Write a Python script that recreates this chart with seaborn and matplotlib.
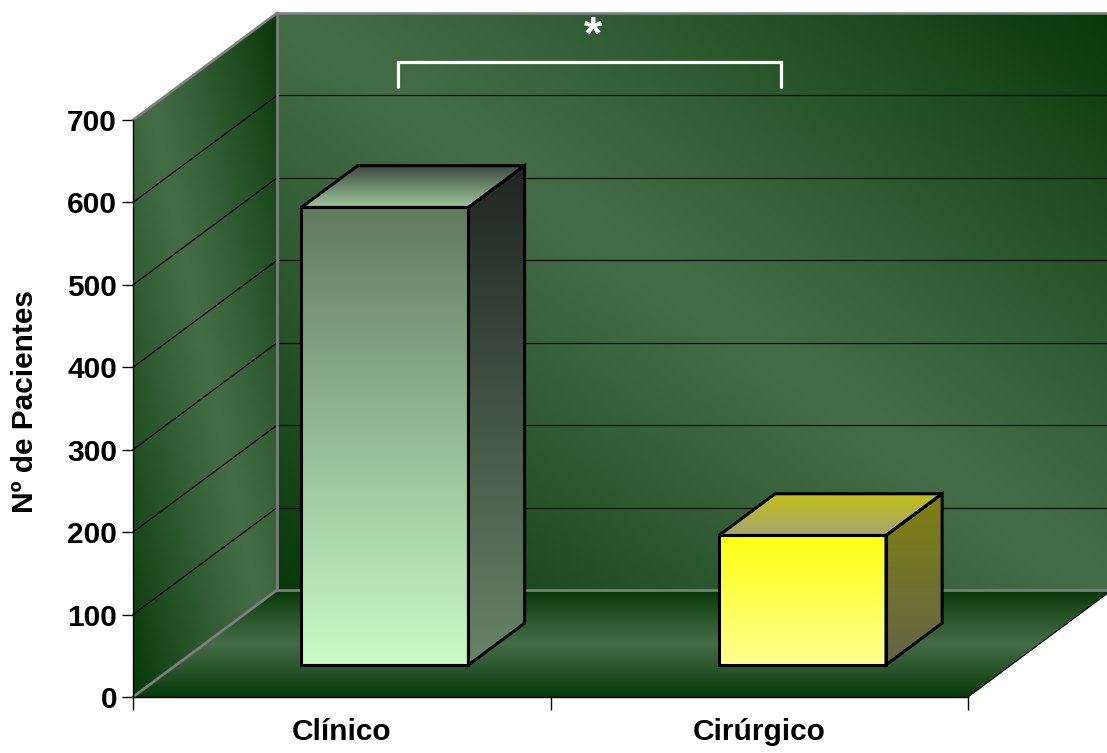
import numpy as np
import pandas as pd
import matplotlib
matplotlib.use("Agg")
import matplotlib.pyplot as plt
from matplotlib.patches import Polygon
from matplotlib.transforms import Affine2D
import seaborn as sns

# ---- data -------------------------------------------------------------
categories = ["Clínico", "Cirúrgico"]
patients = [555, 157]
y_ticks = [0, 100, 200, 300, 400, 500, 600, 700]
y_label = "Nº de Pacientes"
significance = "*"

# ---- style ------------------------------------------------------------
sns.set_style("white")
plt.rcParams["font.family"] = ["Liberation Sans", "DejaVu Sans"]
plt.rcParams["font.weight"] = "bold"
for key in ["text.color", "axes.labelcolor", "xtick.color", "ytick.color"]:
    plt.rcParams[key] = "black"

W, H = 1107, 753
fig = plt.figure(figsize=(W / 100, H / 100), dpi=100)
fig.patch.set_facecolor("white")
ax = fig.add_axes([133 / W, 56 / H, 835 / W, 577 / H])
ax.set_facecolor("none")

YMAX = 700
DX, DY = 0.345, 129.8      # depth of the 3-D box, in data units
F0, F1 = 0.30, 0.69        # depth slice occupied by the bars

LIGHT = np.array([68, 108, 70]) / 255
DARK = np.array([6, 56, 8]) / 255
GRAY = "#808080"
EDGE_LW = 2.2

bar_shades = {
    "Clínico": dict(front=((96, 122, 96), (200, 252, 200)),
                    side=((30, 38, 32), (104, 132, 104)),
                    top=((60, 72, 60), (156, 198, 156))),
    "Cirúrgico": dict(front=((255, 255, 16), (255, 255, 146)),
                      side=((128, 128, 16), (100, 100, 72)),
                      top=((194, 190, 22), (166, 166, 112))),
}


def vgrad(c_top, c_bottom, n=256):
    t = np.linspace(0, 1, n)[:, None, None]
    a = np.array(c_top)[None, None, :] / 255
    b = np.array(c_bottom)[None, None, :] / 255
    return a * (1 - t) + b * t


def diag_grad(n=300, power=1.2):
    u = np.linspace(0, 1, n)[None, :]
    v = np.linspace(0, 1, n)[:, None]
    s = np.clip(np.abs(u - v), 0, 1) ** power
    return LIGHT * (1 - s[..., None]) + DARK * s[..., None]


def floor_grad(n=256):
    v = np.linspace(0, 1, n)[:, None]
    s = np.abs(2 * v - 1) ** 1.1
    return LIGHT * (1 - s[..., None]) + DARK * s[..., None]


def put_image(arr, extent, z, clip=None, transform=None):
    im = ax.imshow(arr, extent=extent, origin="upper", aspect="auto",
                   interpolation="bilinear", zorder=z,
                   transform=transform if transform is not None else ax.transData)
    im.set_clip_box(fig.bbox)
    if clip is not None:
        im.set_clip_path(clip)
    return im


# ---- walls and floor ---------------------------------------------------
xl, xr = -0.5, 1.5
put_image(diag_grad(), (xl + DX, xr + DX, DY, YMAX + DY), z=0.2)

side_wall = Polygon([(xl, 0), (xl + DX, DY), (xl + DX, YMAX + DY), (xl, YMAX)],
                    closed=True, fc="none", ec="none", zorder=0.3, clip_on=False)
ax.add_patch(side_wall)
put_image(diag_grad(), (xl, xl + DX, 0, YMAX + DY), z=0.3, clip=side_wall)

floor = Polygon([(xl, 0), (xr, 0), (xr + DX, DY), (xl + DX, DY)],
                closed=True, fc="none", ec="none", zorder=0.3, clip_on=False)
ax.add_patch(floor)
put_image(floor_grad(), (xl, xr + DX, 0, DY), z=0.3, clip=floor)

# gridlines on the back and side walls
for v in y_ticks[1:-1]:
    ax.plot([xl + DX, xr + DX], [v + DY, v + DY], color="black", lw=0.9,
            alpha=0.85, zorder=0.6, clip_on=False)
    ax.plot([xl, xl + DX], [v, v + DY], color="black", lw=0.9,
            zorder=0.6, clip_on=False)

# box edges
edge_kw = dict(color=GRAY, lw=1.9, zorder=0.8, clip_on=False,
               solid_capstyle="projecting")
ax.plot([xl, xl + DX], [YMAX, YMAX + DY], **edge_kw)
ax.plot([xl + DX, xr + DX], [YMAX + DY, YMAX + DY], **edge_kw)
ax.plot([xl + DX, xl + DX], [DY, YMAX + DY], **edge_kw)
ax.plot([xl + DX, xr + DX], [DY, DY], **edge_kw)
ax.plot([xl, xl + DX], [0, DY], **edge_kw)
ax.plot([xr, xr + DX], [0, DY], color="black", lw=0.8, zorder=0.8, clip_on=False)

# ---- bars -------------------------------------------------------------
df = pd.DataFrame({"grupo": categories, "pacientes": patients})
sns.barplot(data=df, x="grupo", y="pacientes", order=categories, width=0.4,
            color="white", errorbar=None, ax=ax)

ox0, oy0 = F0 * DX, F0 * DY
ox1, oy1 = F1 * DX, F1 * DY
shift = Affine2D().translate(ox0, oy0) + ax.transData
face_kw = dict(closed=True, fc="none", ec="black", lw=EDGE_LW, zorder=4,
               clip_on=False, joinstyle="miter")

for bar, cat in zip(list(ax.patches)[-len(categories):], categories):
    shade = bar_shades[cat]
    x0, w, v = bar.get_x(), bar.get_width(), bar.get_height()
    x1 = x0 + w

    bar.set_transform(shift)
    bar.set_facecolor("none")
    bar.set_edgecolor("black")
    bar.set_linewidth(EDGE_LW)
    bar.set_joinstyle("miter")
    bar.set_zorder(4)
    bar.set_clip_on(False)
    put_image(vgrad(*shade["front"]), (x0, x1, 0, v), z=3.5, transform=shift)

    side = Polygon([(x1 + ox0, oy0), (x1 + ox1, oy1), (x1 + ox1, v + oy1),
                    (x1 + ox0, v + oy0)], **face_kw)
    ax.add_patch(side)
    put_image(vgrad(*shade["side"]), (x1 + ox0, x1 + ox1, oy0, v + oy1),
              z=3.5, clip=side)

    top = Polygon([(x0 + ox0, v + oy0), (x1 + ox0, v + oy0), (x1 + ox1, v + oy1),
                   (x0 + ox1, v + oy1)], **face_kw)
    ax.add_patch(top)
    put_image(vgrad(*shade["top"]), (x0 + ox0, x1 + ox1, v + oy0, v + oy1),
              z=3.5, clip=top)

# ---- significance bracket ---------------------------------------------
ax.plot([0.135, 0.135, 1.052, 1.052], [740, 770.4, 770.4, 740], color="white",
        lw=2.3, zorder=5, clip_on=False, solid_joinstyle="miter")
ax.text(0.602, 786, significance, ha="center", va="baseline", fontsize=34,
        fontweight="bold", color="white", zorder=5, clip_on=False)

# ---- axes -------------------------------------------------------------
ax.set_xlim(xl, xr)
ax.set_ylim(0, YMAX)
ax.set_yticks(y_ticks)
ax.set_xticks([0, 1])
ax.set_xticklabels(categories)
ax.set_xticks([xl, 0.5, xr], minor=True)
ax.tick_params(axis="y", which="major", left=True, direction="out", length=8,
               width=1, color="black", pad=3.5, labelsize=21.5)
ax.tick_params(axis="x", which="major", bottom=True, length=0, pad=15,
               labelsize=21.5)
ax.tick_params(axis="x", which="minor", bottom=True, direction="out", length=9,
               width=1, color="black")
for lab in ax.get_xticklabels() + ax.get_yticklabels():
    lab.set_fontweight("bold")
ax.set_xlabel("")
ax.set_ylabel(y_label, fontsize=21.5, fontweight="bold")
ax.yaxis.set_label_coords(-0.112, 0.512)
for s in ["top", "right"]:
    ax.spines[s].set_visible(False)
for s in ["left", "bottom"]:
    ax.spines[s].set_color("black")
    ax.spines[s].set_linewidth(1.0)
    ax.spines[s].set_zorder(3)

fig.savefig("out.png", dpi=100, facecolor="white")
